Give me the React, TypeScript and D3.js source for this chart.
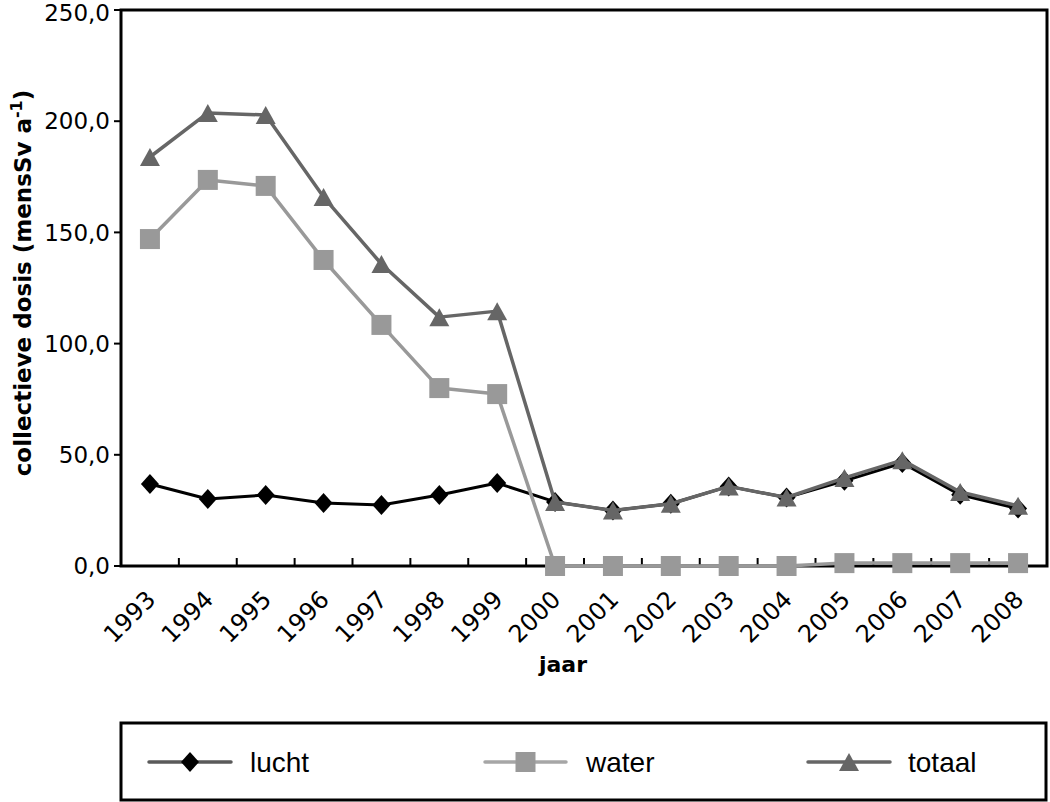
import React from "react";
import * as d3 from "d3";

const years = ["1993","1994","1995","1996","1997","1998","1999","2000","2001","2002","2003","2004","2005","2006","2007","2008"];
const lucht = [36.9, 30.1, 31.9, 28.3, 27.4, 31.9, 37.3, 28.8, 25.0, 28.0, 35.8, 30.8, 38.3, 46.3, 32.0, 25.8];
const water = [147.0, 173.6, 170.9, 137.6, 108.4, 80.0, 77.3, 0, 0, 0, 0, 0, 1.3, 1.3, 1.3, 1.3];
const totaal = [183.9, 203.7, 202.8, 165.9, 135.8, 111.9, 114.6, 28.8, 25.0, 28.0, 35.8, 30.8, 39.6, 47.6, 33.3, 27.1];
const yTicks = [0, 50, 100, 150, 200, 250];
const seriesNames = ["lucht", "water", "totaal"];

const W = 1050, H = 802;
const L = 121, R = 1047, T = 10, B = 566;

const AX = "'DejaVu Sans', sans-serif";
const LG = "'Liberation Sans', Arial, sans-serif";

function marker(kind: string, x: number, y: number, color: string, key: any) {
  if (kind === "diamond") {
    const w = 9, h = 10;
    return <path key={key} d={`M${x},${y - h}L${x + w},${y}L${x},${y + h}L${x - w},${y}Z`} fill={color} />;
  }
  if (kind === "square") {
    return <rect key={key} x={x - 10} y={y - 10} width={20} height={20} fill={color} />;
  }
  const w = 10, h = 9;
  return <path key={key} d={`M${x},${y - h}L${x + w},${y + h}L${x - w},${y + h}Z`} fill={color} />;
}

export default function App() {
  const x = d3.scaleBand<string>().domain(years).range([L, R]).padding(0);
  const y = d3.scaleLinear().domain([0, 250]).range([B, T]);
  const cx = (yr: string) => (x(yr) as number) + x.bandwidth() / 2;
  const line = d3.line<number>().x((_, i) => cx(years[i])).y((v) => y(v));

  const series = [
    { name: seriesNames[0], values: lucht, color: "#000000", lineColor: "#000000", legendLine: "#5a5a5a", kind: "diamond", width: 3 },
    { name: seriesNames[1], values: water, color: "#999999", lineColor: "#999999", legendLine: "#a6a6a6", kind: "square", width: 3.5 },
    { name: seriesNames[2], values: totaal, color: "#666666", lineColor: "#666666", legendLine: "#666666", kind: "triangle", width: 3.5 },
  ];

  const boundaries = years.map((yr) => x(yr) as number).slice(1);

  const legendItems = [
    { lx1: 149, lx2: 231, tx: 250 },
    { lx1: 485, lx2: 566, tx: 586 },
    { lx1: 808, lx2: 890, tx: 908 },
  ];

  return (
    <svg width={W} height={H} style={{ position: "absolute", left: 0, top: 0, background: "#fff" }}>
      <rect x={0} y={0} width={W} height={H} fill="#fff" />
      {/* frame */}
      <rect x={L} y={T} width={R - L} height={B - T} fill="none" stroke="#000" strokeWidth={3} />
      {/* y ticks */}
      {yTicks.map((t) => (
        <g key={t}>
          <line x1={L - 7} x2={L} y1={y(t)} y2={y(t)} stroke="#000" strokeWidth={2} />
          <text x={110} y={Math.max(y(t), 13)} dy="0.36em" textAnchor="end" fontFamily={AX} fontSize={23} fill="#000">
            {d3.format(".1f")(t).replace(".", ",")}
          </text>
        </g>
      ))}
      {/* x ticks */}
      {boundaries.map((bx, i) => (
        <line key={i} x1={bx} x2={bx} y1={B} y2={B - 8} stroke="#000" strokeWidth={2} />
      ))}
      {years.map((yr) => (
        <text key={yr} transform={`translate(${cx(yr) + 7},${601}) rotate(-45)`} textAnchor="end" fontFamily={AX} fontSize={24} fill="#000">
          {yr}
        </text>
      ))}
      {/* axis titles */}
      <text x={563} y={672} textAnchor="middle" fontFamily={AX} fontWeight="bold" fontSize={22} fill="#000">jaar</text>
      <text transform={`translate(31,${283}) rotate(-90)`} textAnchor="middle" fontFamily={AX} fontWeight="bold" fontSize={23} fill="#000">
        collectieve dosis (mensSv a<tspan dy={-9} fontSize={16}>-1</tspan><tspan dy={9}>)</tspan>
      </text>
      {/* series */}
      {series.map((s) => (
        <g key={s.name}>
          <path d={line(s.values) || ""} fill="none" stroke={s.lineColor} strokeWidth={s.width} strokeLinejoin="round" />
          {s.values.map((v, i) => marker(s.kind, cx(years[i]), y(v), s.color, i))}
        </g>
      ))}
      {/* legend */}
      <rect x={121} y={723} width={925} height={77} fill="none" stroke="#000" strokeWidth={3} />
      {series.map((s, i) => {
        const it = legendItems[i];
        const my = 762;
        return (
          <g key={s.name}>
            <line x1={it.lx1} x2={it.lx2} y1={my} y2={my} stroke={s.legendLine} strokeWidth={3.5} strokeLinecap="round" />
            {marker(s.kind, (it.lx1 + it.lx2) / 2, my, s.color, "m")}
            <text x={it.tx} y={my} dy="0.36em" fontFamily={LG} fontSize={28} fill="#000">{s.name}</text>
          </g>
        );
      })}
    </svg>
  );
}
